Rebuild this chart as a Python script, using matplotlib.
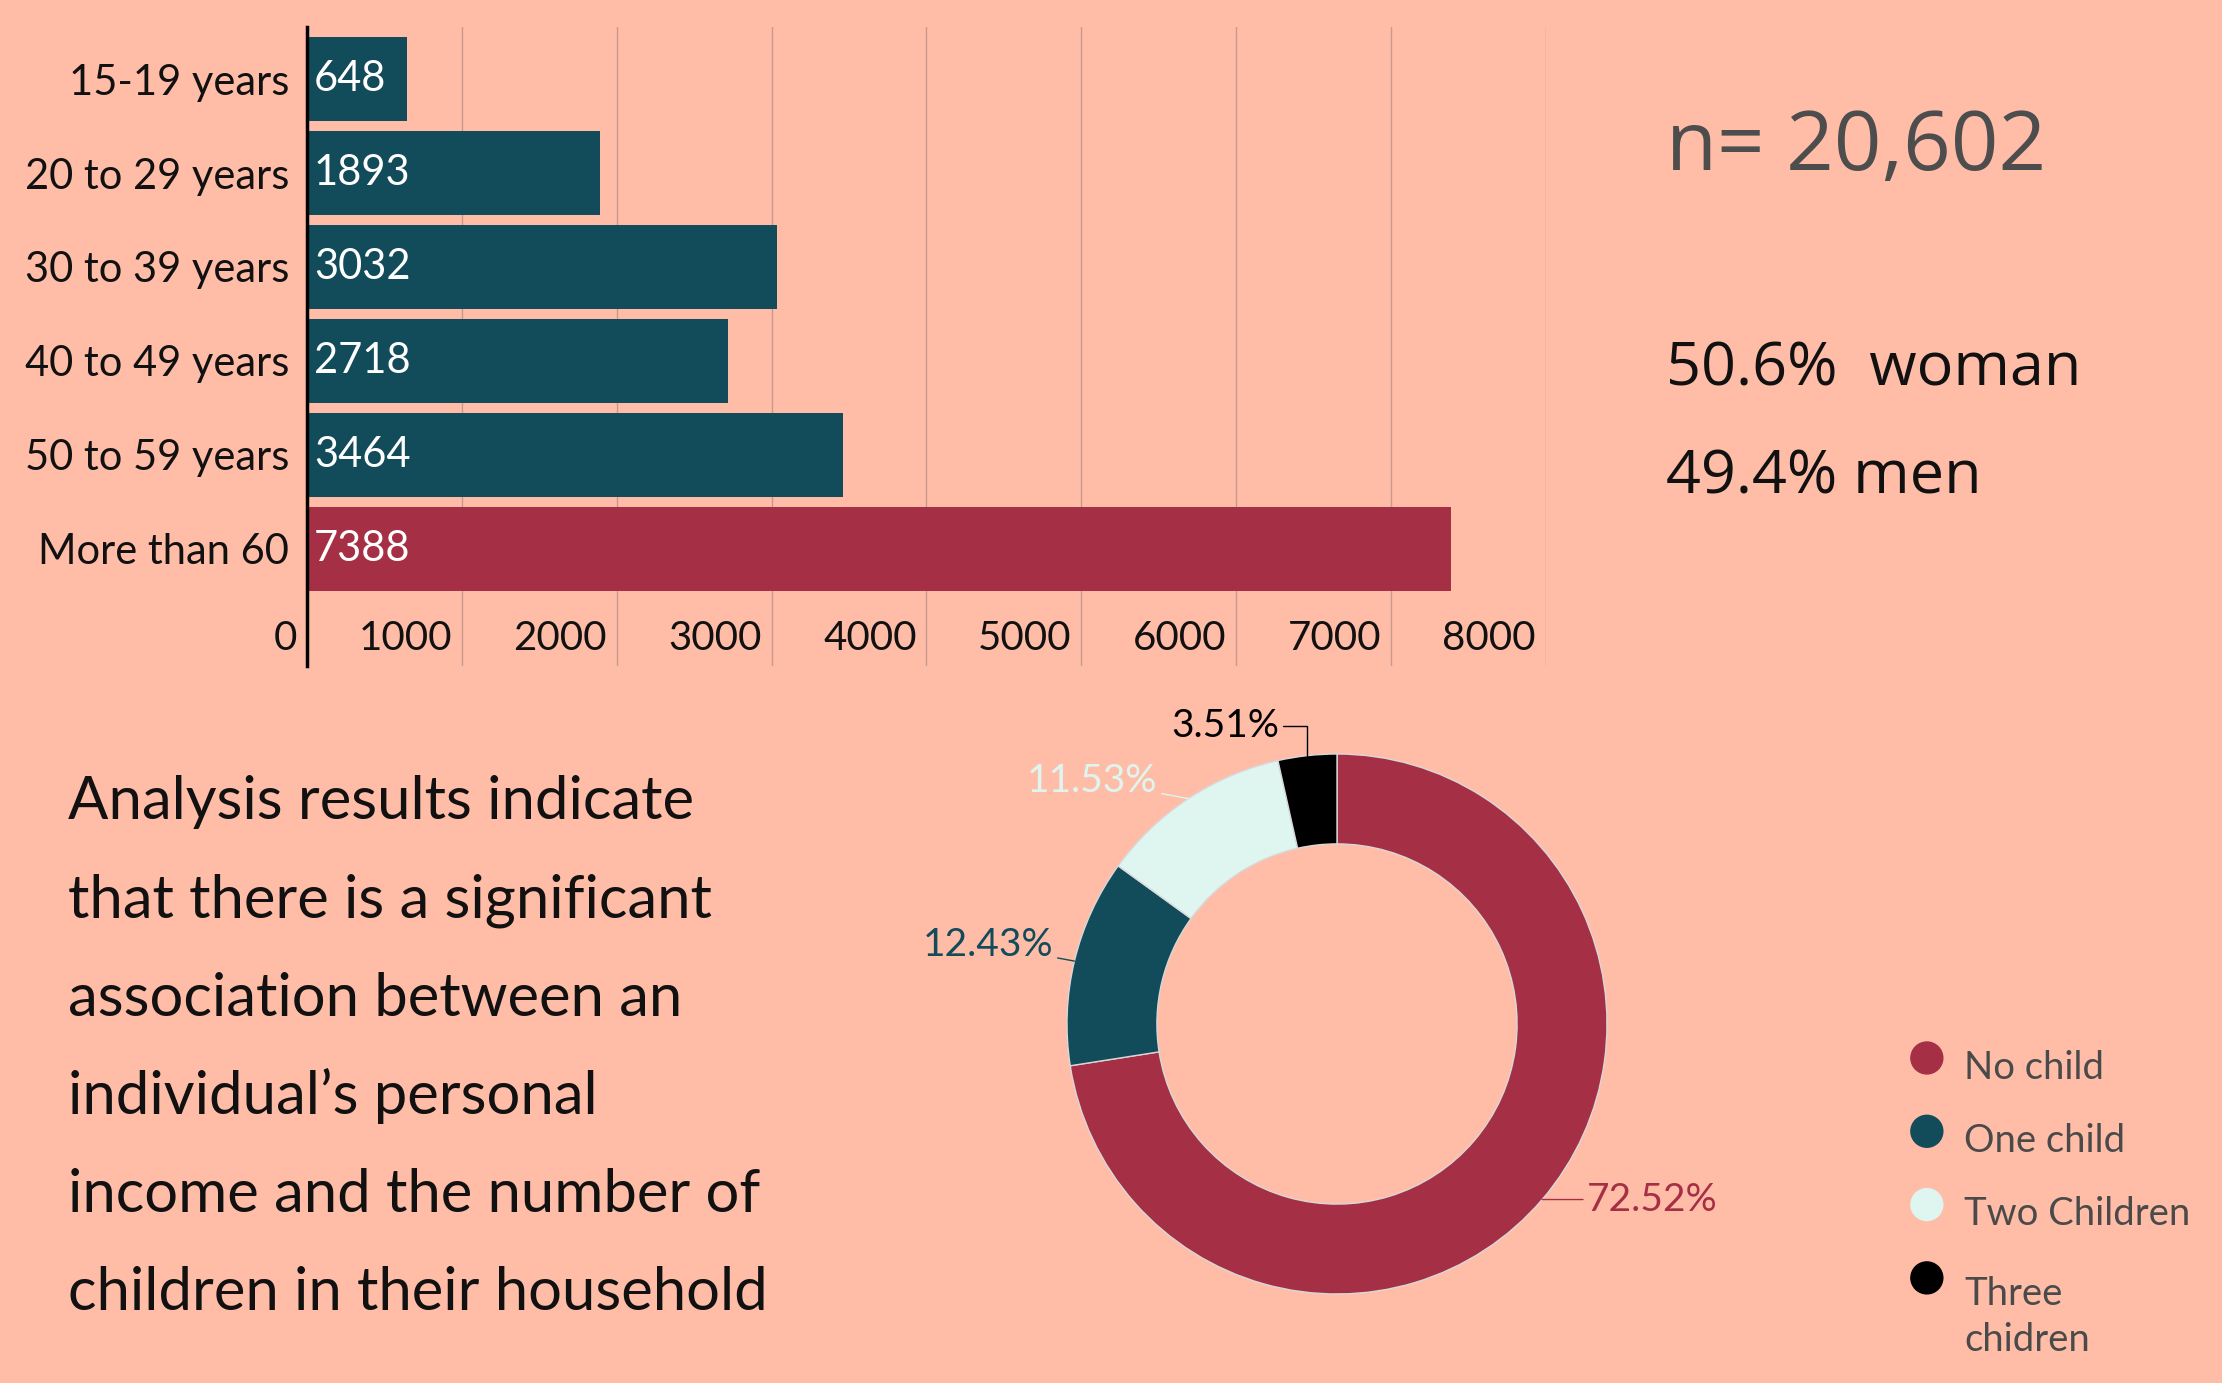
import numpy as np
import matplotlib
matplotlib.use("Agg")
import matplotlib.pyplot as plt
from matplotlib.transforms import ScaledTranslation

# ---- data ----
age_groups = ["15-19 years", "20 to 29 years", "30 to 39 years",
              "40 to 49 years", "50 to 59 years", "More than 60"]
age_counts = [648, 1893, 3032, 2718, 3464, 7388]
x_ticks = [0, 1000, 2000, 3000, 4000, 5000, 6000, 7000, 8000]

child_labels = ["No child", "One child", "Two Children", "Three\nchidren"]
child_share = [72.52, 12.43, 11.53, 3.51]

n_total = "n= 20,602"
gender_lines = ["50.6%  woman", "49.4% men"]
summary = ["Analysis results indicate",
           "that there is a significant",
           "association between an",
           "individual\u2019s personal",
           "income and the number of",
           "children in their household"]

# ---- style ----
BG = "#FFBDA8"
TEAL = "#124B5A"
RED = "#A53045"
LIGHT = "#DEF5F0"
GRID = "#C99A8C"
FONT = ["Lato", "DejaVu Sans"]
FONT2 = ["Open Sans", "DejaVu Sans"]

W, H = 2222, 1383
DPI = 100
fig = plt.figure(figsize=(W / DPI, H / DPI), dpi=DPI, facecolor=BG)
plt.rcParams["font.family"] = FONT


def px_box(left, top, right, bottom):
    return [left / W, 1 - bottom / H, (right - left) / W, (bottom - top) / H]


# ---- bar chart ----
ax = fig.add_axes(px_box(307, 27, 1546, 666))
ax.set_facecolor("none")
bar_colors = [TEAL] * (len(age_counts) - 1) + [RED]
ypos = np.arange(len(age_groups))
ax.barh(ypos, age_counts, height=0.895, color=bar_colors, zorder=2)
ax.set_xlim(0, 8000)
ax.set_ylim(6.25, -0.556)
ax.set_yticks(ypos, age_groups)
ax.tick_params(axis="y", length=0, pad=13, labelsize=30, labelcolor="#111111")
ax.set_xticks(x_ticks, [""] * len(x_ticks))
ax.tick_params(axis="x", length=0)
ax.grid(axis="x", color=GRID, lw=1, zorder=0)
for s in ["top", "right", "bottom"]:
    ax.spines[s].set_visible(False)
ax.spines["left"].set_linewidth(2.5)
ax.spines["left"].set_color("black")
ax.spines["left"].set_zorder(3)

tick_off = ScaledTranslation(-10 / DPI, 27 / DPI, fig.dpi_scale_trans)
for t in x_ticks:
    ax.text(t, 0, str(t), transform=ax.get_xaxis_transform() + tick_off,
            ha="right", va="center", fontsize=29, color="#111111")

for y, v in zip(ypos, age_counts):
    ax.annotate(str(v), (0, y), xytext=(5, 0), textcoords="offset points",
                ha="left", va="center", color="white", fontsize=30, zorder=4)

# ---- side stats ----
fig.text(1666 / W, 1 - 170 / H, n_total, fontsize=60, color="#4D4D4D",
         family=FONT2, va="baseline")
fig.text(1666 / W, 1 - 385 / H, gender_lines[0], fontsize=44, color="#111111",
         family=FONT2, va="baseline")
fig.text(1666 / W, 1 - 493 / H, gender_lines[1], fontsize=44, color="#111111",
         family=FONT2, va="baseline")

# ---- summary paragraph ----
for i, line in enumerate(summary):
    fig.text(68 / W, 1 - (819 + 98.3 * i) / H, line, fontsize=43,
             color="#111111", va="baseline")

# ---- donut ----
cx, cy, R = 1337, 1024, 270
pax = fig.add_axes(px_box(cx - 1.3 * R, cy - 1.3 * R, cx + 1.3 * R, cy + 1.3 * R))
pax.set_facecolor("none")
pie_colors = [RED, TEAL, LIGHT, "black"]
wedges, _ = pax.pie(child_share, colors=pie_colors, startangle=90,
                    counterclock=False, radius=1,
                    wedgeprops=dict(width=0.333, edgecolor="#D8D8D8", linewidth=1))
pax.set_xlim(-1.3, 1.3)
pax.set_ylim(-1.3, 1.3)
pax.set_aspect("equal")
pax.axis("off")

label_colors = [RED, TEAL, LIGHT, "black"]
label_offsets = [(45, 0, "left"), (-21, 16, "right"), (-31, 18, "right"), (-28, 30, "right")]
leader_styles = ["arc3", "arc3", "arc3", "angle,angleA=0,angleB=90,rad=0"]
for w, val, col, (dx, dy, ha), cs in zip(wedges, child_share, label_colors,
                                         label_offsets, leader_styles):
    ang = np.deg2rad((w.theta1 + w.theta2) / 2)
    anchor = (np.cos(ang), np.sin(ang))
    pax.annotate(f"{val:.2f}%", anchor, xytext=(dx * 0.72, dy * 0.72),
                 textcoords="offset points", ha=ha, va="center", fontsize=28,
                 color=col,
                 arrowprops=dict(arrowstyle="-", color=col, lw=1,
                                 shrinkA=1, shrinkB=0, connectionstyle=cs))

# ---- legend ----
lax = fig.add_axes(px_box(1880, 1020, 2222, 1383))
lax.set_facecolor("none")
lax.set_xlim(0, 1)
lax.set_ylim(4.434, -0.518)
lax.axis("off")
rows = np.arange(len(child_labels))
lax.scatter(np.full(len(rows), 0.137), rows, s=23 ** 2, c=pie_colors)
for i, lab in enumerate(child_labels):
    nl = lab.count("\n")
    lax.text(0.246, i + 0.13 + nl * 0.4, lab, fontsize=27.5, color="#4A4A4A",
             va="center", ha="left", linespacing=1.35)

fig.savefig("out.png", dpi=DPI, facecolor=BG)
